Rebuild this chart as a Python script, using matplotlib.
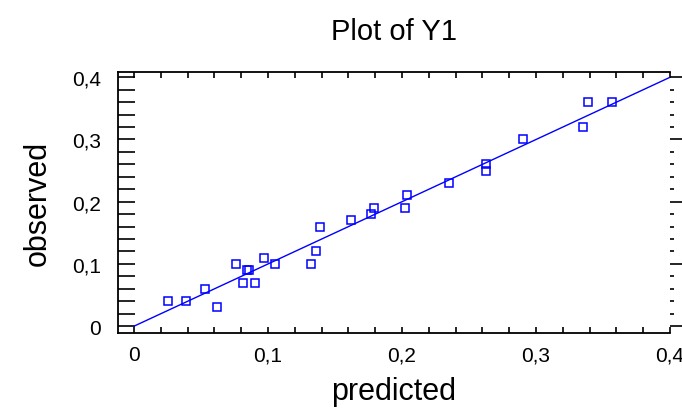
import numpy as np
import matplotlib
matplotlib.use("Agg")
import matplotlib.pyplot as plt
from matplotlib.ticker import MultipleLocator, FuncFormatter

plt.rcParams['font.family'] = ['Liberation Sans', 'DejaVu Sans']

predicted = [0.025, 0.039, 0.053, 0.062, 0.076, 0.081, 0.084, 0.086, 0.090,
             0.097, 0.105, 0.132, 0.136, 0.139, 0.162, 0.177, 0.179, 0.202,
             0.204, 0.235, 0.263, 0.263, 0.290, 0.335, 0.339, 0.357]
observed = [0.04, 0.04, 0.06, 0.03, 0.10, 0.07, 0.09, 0.09, 0.07,
            0.11, 0.10, 0.10, 0.12, 0.16, 0.17, 0.18, 0.19, 0.19,
            0.21, 0.23, 0.26, 0.25, 0.30, 0.32, 0.36, 0.36]
line_x = [0.0, 0.4]

blue = '#0000ff'

fig = plt.figure(figsize=(6.82, 4.10), dpi=100)
ax = fig.add_axes([0.1730, 0.1854, 0.8094, 0.6358])

ax.plot(line_x, line_x, color=blue, lw=1.0)
ax.plot(predicted, observed, 's', mfc='none', mec=blue, mew=1.1, ms=6, ls='none')

ax.set_xlim(-0.012, 0.4)
ax.set_ylim(-0.011, 0.408)

comma = FuncFormatter(lambda v, p: '0' if abs(v) < 1e-9 else ('%.1f' % v).replace('.', ','))
for axis in (ax.xaxis, ax.yaxis):
    axis.set_major_locator(MultipleLocator(0.1))
    axis.set_minor_locator(MultipleLocator(0.02))
    axis.set_major_formatter(comma)

ax.spines['right'].set_visible(False)
for s in ('left', 'bottom', 'top'):
    ax.spines[s].set_linewidth(1.3)

ax.tick_params(axis='y', which='both', direction='in', left=True, right=False,
               length=12, width=1.2, labelsize=15, pad=12)
ax.tick_params(axis='x', which='both', direction='in', bottom=True, top=True,
               length=4, width=1.2, labelsize=15, pad=9)

sec = ax.secondary_yaxis('right')
sec.spines['right'].set_visible(False)
sec.yaxis.set_major_locator(MultipleLocator(0.1))
sec.yaxis.set_minor_locator(MultipleLocator(0.02))
sec.tick_params(which='major', direction='out', length=10, width=1.2, labelright=False)
sec.tick_params(which='minor', direction='out', length=3, width=1.2)

ax.set_title('Plot of Y1', fontsize=21, pad=24)
ax.set_xlabel('predicted', fontsize=22, labelpad=8)
ax.set_ylabel('observed', fontsize=22, labelpad=14)

fig.savefig('out.png', dpi=100)
